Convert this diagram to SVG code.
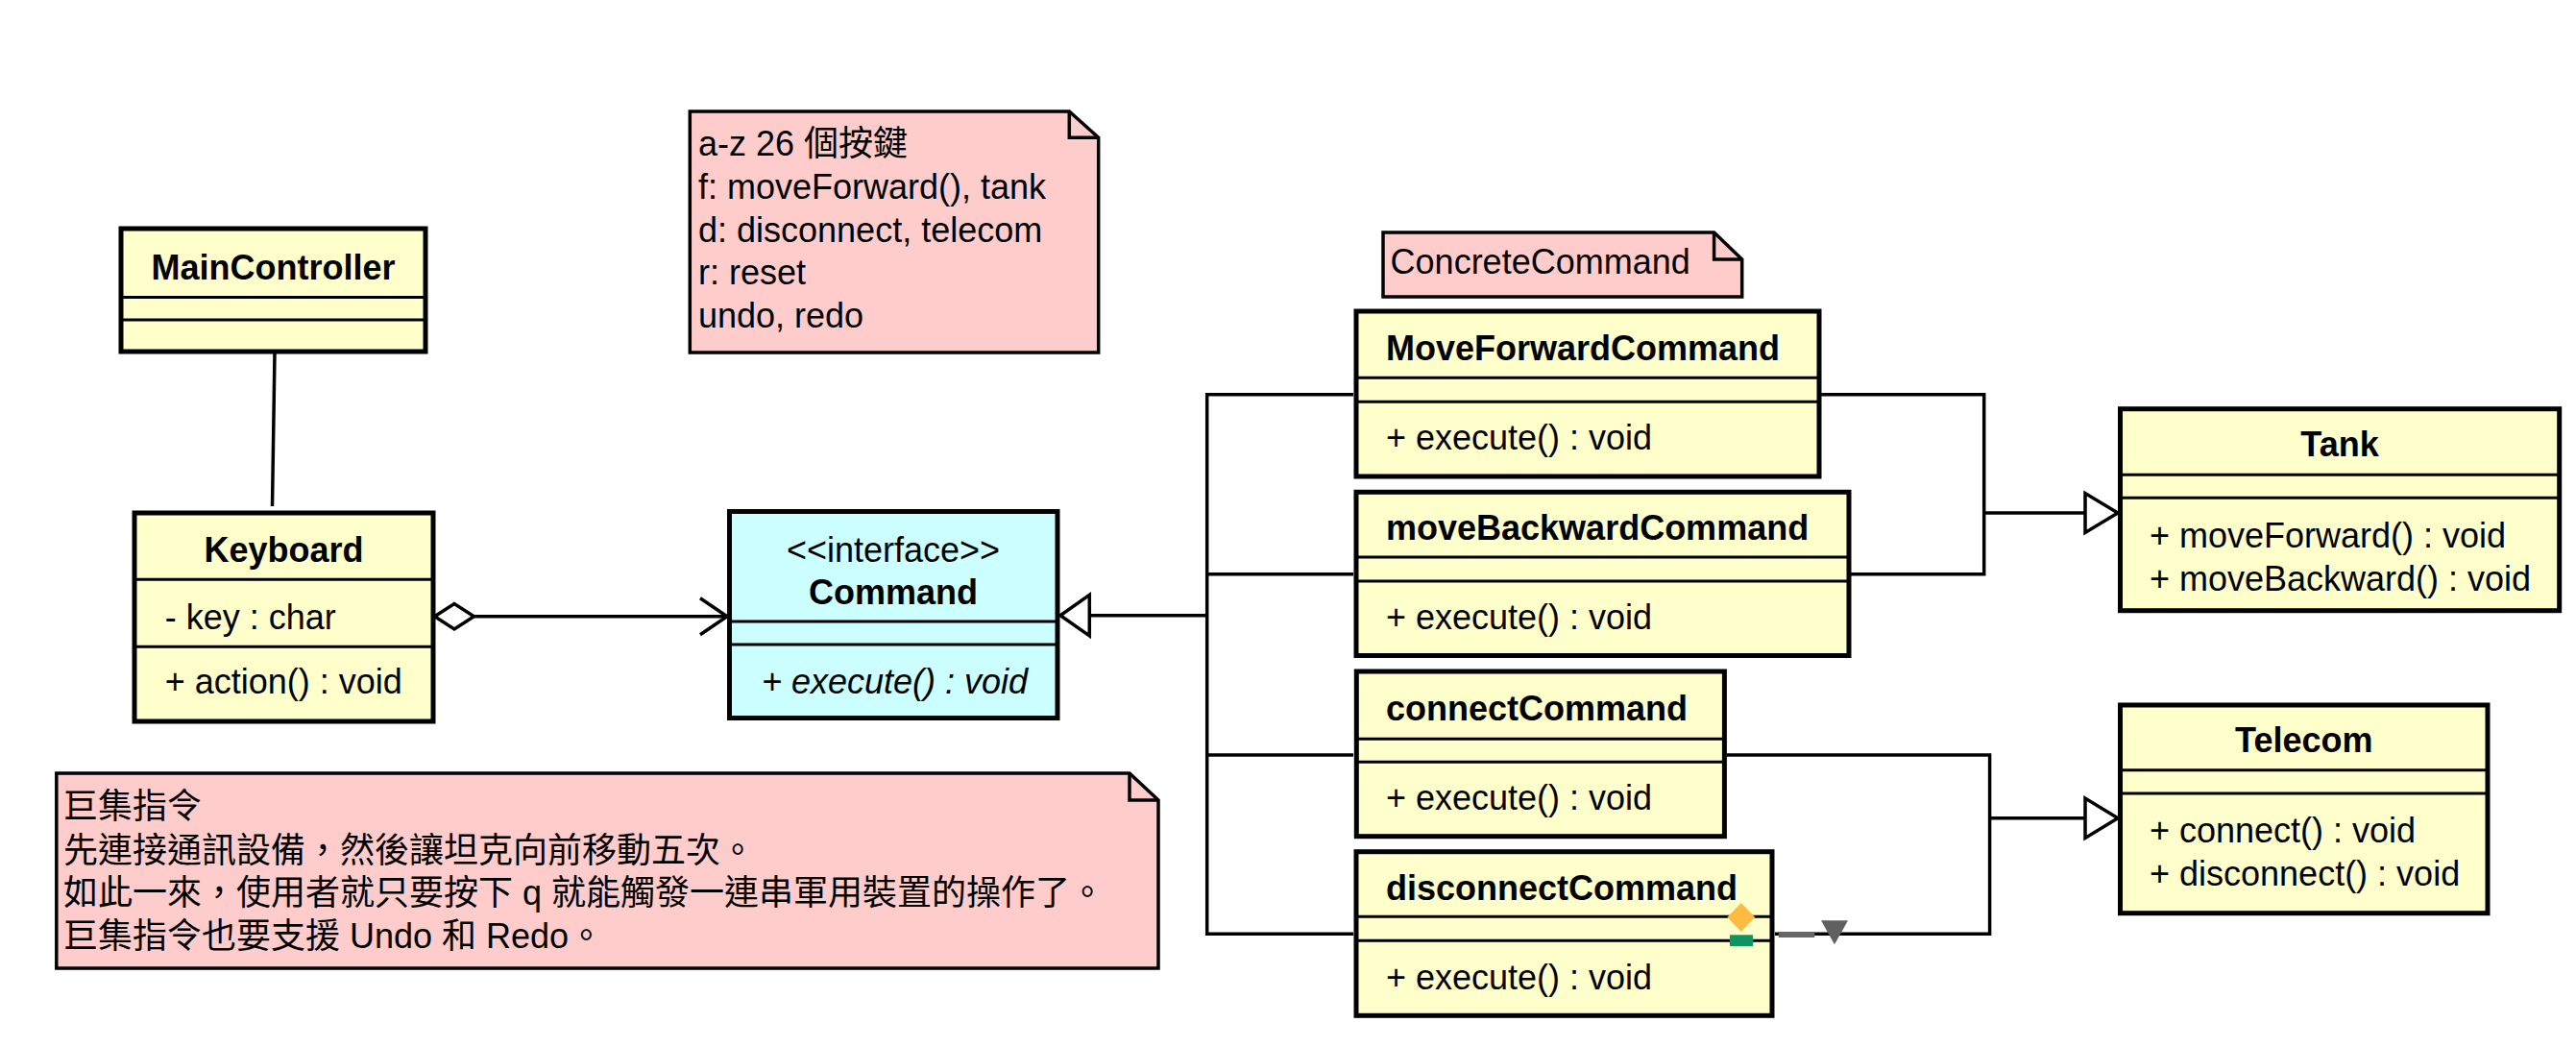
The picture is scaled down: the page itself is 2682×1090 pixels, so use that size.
<svg xmlns="http://www.w3.org/2000/svg" width="2682" height="1090" viewBox="0 0 2682 1090">
<style>
text{font-family:"Liberation Sans",Arial,"Noto Sans CJK TC",sans-serif;font-size:36px;fill:#000}
.t{font-weight:bold}
.c{text-anchor:middle}
.i{font-style:italic}
.box{fill:#FFFFCC;stroke:#000;stroke-width:5}
.ibox{fill:#CCFFFF;stroke:#000;stroke-width:5}
.div{stroke:#000;stroke-width:3}
.note{fill:#FFCCCC;stroke:#000;stroke-width:3.5;stroke-linejoin:miter}
.fold{fill:none;stroke:#000;stroke-width:3.5}
.ln{fill:none;stroke:#000;stroke-width:3.5}
.tri{fill:#fff;stroke:#000;stroke-width:3.5}
</style>
<rect width="2682" height="1090" fill="#fff"/>

<g id="connectors">
  <line class="ln" x1="286" y1="368" x2="283.5" y2="527"/>
  <line class="ln" x1="493.5" y1="641.7" x2="757" y2="641.7"/>
  <polygon class="tri" points="452.5,641.7 473,628.5 493.5,641.7 473,655"/>
  <polyline class="ln" points="729,622.7 757,641.7 729,660.7"/>
  <polyline class="ln" points="1409,410.7 1256.7,410.7 1256.7,972.3 1409,972.3"/>
  <line class="ln" x1="1256.7" y1="597.7" x2="1409" y2="597.7"/>
  <line class="ln" x1="1256.7" y1="786" x2="1409" y2="786"/>
  <line class="ln" x1="1134.3" y1="640.7" x2="1256.7" y2="640.7"/>
  <polygon class="tri" points="1104,640.7 1134.3,619.3 1134.3,662"/>
  <polyline class="ln" points="1896,410.7 2065.7,410.7 2065.7,597.7 1927,597.7"/>
  <line class="ln" x1="2065.7" y1="534" x2="2171" y2="534"/>
  <polygon class="tri" points="2205,534 2171,513.5 2171,554.5"/>
  <polyline class="ln" points="1798,786 2071.6,786 2071.6,972.3 1848,972.3"/>
  <line class="ln" x1="2071.6" y1="851.7" x2="2171" y2="851.7"/>
  <polygon class="tri" points="2205,851.7 2171,831 2171,872.4"/>
  <rect x="1851.7" y="970" width="37.6" height="6" fill="#666"/>
  <polygon points="1896,958.3 1924,958.3 1910,983.3" fill="#606060"/>
</g>

<g id="MainController">
  <rect class="box" x="126" y="238" width="317" height="128"/>
  <line class="div" x1="126" y1="309.5" x2="443" y2="309.5"/>
  <line class="div" x1="126" y1="333" x2="443" y2="333"/>
  <text class="t c" x="284.5" y="291">MainController</text>
</g>

<g id="Keyboard">
  <rect class="box" x="140" y="534" width="311" height="217"/>
  <line class="div" x1="140" y1="603.3" x2="451" y2="603.3"/>
  <line class="div" x1="140" y1="673.3" x2="451" y2="673.3"/>
  <text class="t c" x="295.5" y="585">Keyboard</text>
  <text x="171.7" y="655">- key : char</text>
  <text x="171.7" y="721.7">+ action() : void</text>
</g>

<g id="Command">
  <rect class="ibox" x="759.5" y="532.5" width="341.5" height="215"/>
  <line class="div" x1="759.5" y1="647" x2="1101" y2="647"/>
  <line class="div" x1="759.5" y1="671" x2="1101" y2="671"/>
  <text class="c" x="930" y="585">&lt;&lt;interface&gt;&gt;</text>
  <text class="t c" x="930" y="629">Command</text>
  <text class="i" x="793" y="722">+ execute() : void</text>
</g>

<g id="MoveForwardCommand">
  <rect class="box" x="1412" y="324" width="482" height="172"/>
  <line class="div" x1="1412" y1="393.3" x2="1894" y2="393.3"/>
  <line class="div" x1="1412" y1="418.3" x2="1894" y2="418.3"/>
  <text class="t" x="1443" y="375">MoveForwardCommand</text>
  <text x="1443" y="468">+ execute() : void</text>
</g>

<g id="moveBackwardCommand">
  <rect class="box" x="1412" y="512.3" width="513" height="170.2"/>
  <line class="div" x1="1412" y1="580" x2="1925" y2="580"/>
  <line class="div" x1="1412" y1="605" x2="1925" y2="605"/>
  <text class="t" x="1443" y="561.7">moveBackwardCommand</text>
  <text x="1443" y="655">+ execute() : void</text>
</g>

<g id="connectCommand">
  <rect class="box" x="1412.3" y="699" width="383.1" height="171.7"/>
  <line class="div" x1="1412.3" y1="769.3" x2="1795.4" y2="769.3"/>
  <line class="div" x1="1412.3" y1="793.3" x2="1795.4" y2="793.3"/>
  <text class="t" x="1443" y="750">connectCommand</text>
  <text x="1443" y="843.3">+ execute() : void</text>
</g>

<g id="disconnectCommand">
  <rect class="box" x="1412" y="886.7" width="433" height="170.6"/>
  <line class="div" x1="1412" y1="954.3" x2="1845" y2="954.3"/>
  <line class="div" x1="1412" y1="979.3" x2="1845" y2="979.3"/>
  <text class="t" x="1443" y="936.7">disconnectCommand</text>
  <text x="1443" y="1030">+ execute() : void</text>
  <polygon points="1798.3,955 1812.8,940 1827.3,955 1812.8,970" fill="#FDBB42"/>
  <rect x="1801" y="973.3" width="24" height="11.7" fill="#0D9460"/>
</g>

<g id="Tank">
  <rect class="box" x="2207.5" y="425.7" width="457.2" height="210"/>
  <line class="div" x1="2207.5" y1="494.3" x2="2664.7" y2="494.3"/>
  <line class="div" x1="2207.5" y1="518.3" x2="2664.7" y2="518.3"/>
  <text class="t c" x="2436" y="475">Tank</text>
  <text x="2238" y="570">+ moveForward() : void</text>
  <text x="2238" y="614.5">+ moveBackward() : void</text>
</g>

<g id="Telecom">
  <rect class="box" x="2207.5" y="734" width="382.5" height="216.7"/>
  <line class="div" x1="2207.5" y1="801.7" x2="2590" y2="801.7"/>
  <line class="div" x1="2207.5" y1="826" x2="2590" y2="826"/>
  <text class="t c" x="2398.8" y="783.3">Telecom</text>
  <text x="2238" y="876.7">+ connect() : void</text>
  <text x="2238" y="921.7">+ disconnect() : void</text>
</g>

<g id="note-keys">
  <path class="note" d="M718.3,116 L1113.3,116 L1143.7,143.3 L1143.7,367 L718.3,367 Z"/>
  <polyline class="fold" points="1113.3,116 1113.3,143.3 1143.7,143.3"/>
  <text x="727" y="162">a-z 26 個按鍵</text>
  <text x="727" y="206.8">f: moveForward(), tank</text>
  <text x="727" y="251.6">d: disconnect, telecom</text>
  <text x="727" y="296.4">r: reset</text>
  <text x="727" y="341.2">undo, redo</text>
</g>

<g id="note-concrete">
  <path class="note" d="M1440,242 L1784.6,242 L1813.7,270 L1813.7,309 L1440,309 Z"/>
  <polyline class="fold" points="1784.6,242 1784.6,270 1813.7,270"/>
  <text x="1447.6" y="285">ConcreteCommand</text>
</g>

<g id="note-macro">
  <path class="note" d="M58.8,805 L1176,805 L1206,833 L1206,1008 L58.8,1008 Z"/>
  <polyline class="fold" points="1176,805 1176,833 1206,833"/>
  <text x="66" y="852">巨集指令</text>
  <text x="66" y="897.5">先連接通訊設備，然後讓坦克向前移動五次。</text>
  <text x="66" y="942">如此一來，使用者就只要按下 q 就能觸發一連串軍用裝置的操作了。</text>
  <text x="66" y="986.5">巨集指令也要支援 Undo 和 Redo。</text>
</g>
</svg>
